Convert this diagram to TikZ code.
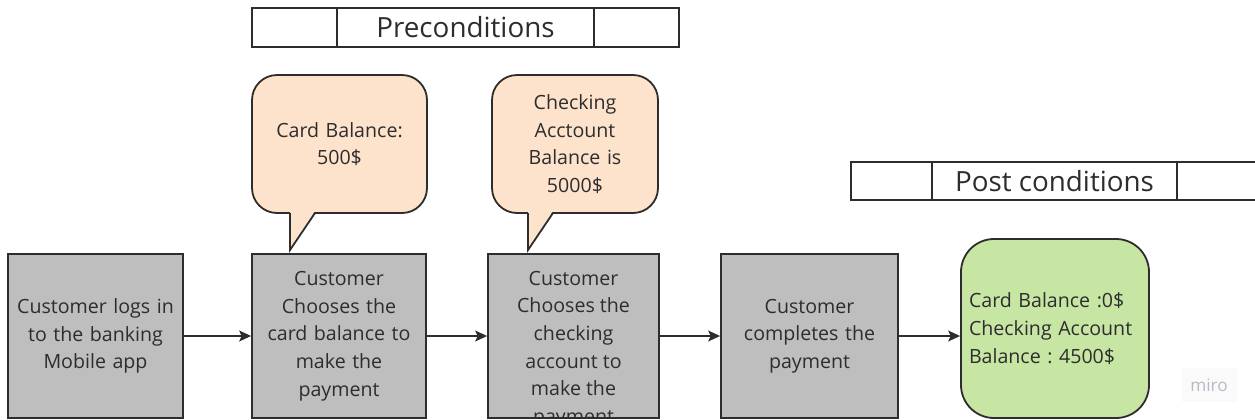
\documentclass[tikz,border=0pt]{standalone}
\usepackage{fontspec}
\setmainfont{Open Sans}
\usetikzlibrary{positioning,arrows.meta}

\definecolor{inkgray}{RGB}{45,45,45}
\definecolor{boxgray}{RGB}{190,190,190}
\definecolor{notepeach}{RGB}{253,227,204}
\definecolor{resultgreen}{RGB}{199,230,164}
\definecolor{markgray}{RGB}{185,185,200}

\newcommand\bodytext{\fontsize{9.8pt}{13.85pt}\selectfont}
\newcommand\headtext{\fontsize{13.9pt}{16pt}\selectfont}
\frenchspacing

\tikzset{
  stepbox/.style={draw=inkgray, fill=boxgray, line width=0.9pt, inner sep=0pt,
    text width=#1, minimum height=82pt, align=center, font=\bodytext, text=inkgray},
  notebox/.style={draw=inkgray, fill=notepeach, line width=0.9pt, rounded corners=12.5pt,
    inner sep=0pt, text width=#1, minimum height=69pt, align=center, font=\bodytext, text=inkgray},
  resultbox/.style={draw=inkgray, fill=resultgreen, line width=0.9pt, rounded corners=16.5pt,
    inner xsep=4pt, inner ysep=0pt, text width=86pt, minimum height=89.5pt, align=left,
    font=\bodytext, text=inkgray},
  headcell/.style={draw=inkgray, line width=0.8pt, inner sep=0pt, outer sep=0pt,
    minimum width=#1, minimum height=19.5pt, font=\headtext, text=inkgray},
  flow/.style={draw=inkgray, line width=0.7pt, -{Stealth[length=6pt,width=5.5pt,inset=1.3pt]}},
}

\begin{document}
\begin{tikzpicture}[x=0.5pt, y=-0.5pt]
        \useasboundingbox (0,0) rectangle (1255,419);

        % Precondition header
        \node[headcell=128.5pt] (prehead) at (465.5,27.5) {Preconditions};
        \node[headcell=42.5pt, left=0pt of prehead] (preleft) {};
        \node[headcell=42.5pt, right=0pt of prehead] (preright) {};

        % Post condition header
        \node[headcell=122.5pt, minimum height=19pt] (posthead) at (1054.5,181) {Post conditions};
        \node[headcell=40.5pt, minimum height=19pt, left=0pt of posthead] (postleft) {};
        \node[headcell=42.5pt, minimum height=19pt, right=0pt of posthead] (postright) {};

        % Steps
        \node[stepbox=87.5pt] (login) at (95.5,336) {Customer logs in\\to the banking\\Mobile app};
        \node[stepbox=87pt] (choosecard) at (339,336) {Customer\\Chooses the\\card balance to\\make the\\payment};
        \node[stepbox=85.5pt] (choosechk) at (573.5,336) {};
        \begin{scope}
            \clip ([yshift=1pt]choosechk.south west) rectangle (choosechk.north east);
            \node[font=\bodytext, text=inkgray, align=center, inner sep=0pt, anchor=north]
                at ([yshift=-8.7pt]choosechk.north) {Customer\\Chooses the\\checking\\account to\\make the\\payment};
        \end{scope}
        \node[stepbox=88.5pt] (complete) at (809.5,336) {Customer\\completes the\\payment};

        % Result
        \node[resultbox] (result) at (1055,328.5) {Card Balance :0\$\\Checking Account\\Balance : 4500\$};

        % Arrows
        \foreach \a/\b in {login/choosecard, choosecard/choosechk, choosechk/complete} {
            \draw[flow] (\a) -- (\b);
        }
        \draw[flow] (complete.east) -- (complete.east -| result.west);

        % Callouts
        \node[notebox=87.5pt] (cardnote) at (339.5,144) {Card Balance:\\500\$};
        \node[notebox=83pt] (checknote) at (575,144) {Checking\\Acctount\\Balance is\\5000\$};

        \coordinate (cardtip) at (290,250);
        \coordinate (checktip) at (528,250);
        \fill[notepeach] (290,211) -- (315,211) -- (cardtip) -- cycle;
        \draw[inkgray, line width=0.9pt] (290,213) -- (cardtip) -- (315,213);
        \fill[notepeach] (528,211) -- (553,211) -- (checktip) -- cycle;
        \draw[inkgray, line width=0.9pt] (528,213) -- (checktip) -- (553,213);

        % Watermark
        \node[fill=gray!4, text=markgray, font=\fontsize{8.6pt}{10pt}\selectfont,
            minimum width=27.5pt, minimum height=17pt] (miro) at (1209,385) {miro};
\end{tikzpicture}
\end{document}
